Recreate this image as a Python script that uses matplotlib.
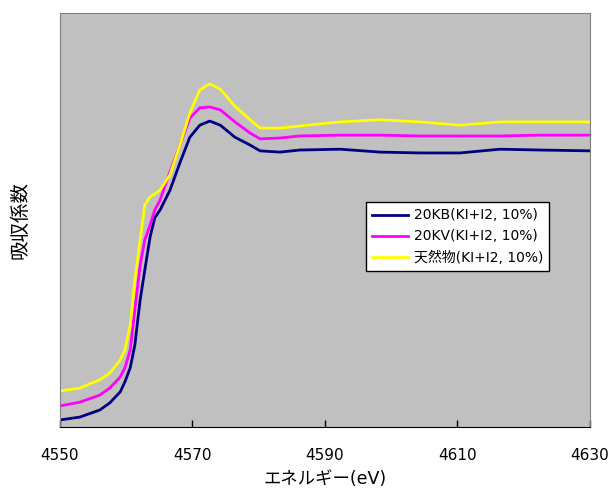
import numpy as np
import matplotlib.pyplot as plt

plt.rcParams['font.family'] = ['DejaVu Sans', 'Noto Sans CJK JP']

# photon energy (eV)
energy = [4550.0, 4553.0, 4556.0, 4557.5, 4559.1, 4559.8, 4560.6, 4561.3, 4562.1,
          4562.8, 4563.6, 4564.3, 4565.1, 4566.6, 4568.1, 4569.6, 4571.1, 4572.6,
          4574.2, 4576.4, 4578.7, 4580.2, 4583.2, 4586.2, 4592.3, 4598.3, 4604.3,
          4610.4, 4616.4, 4622.5, 4630.0]

# absorption (arbitrary units)
kb20 = [0.017, 0.024, 0.041, 0.058, 0.085, 0.109, 0.143, 0.198, 0.307,
        0.379, 0.459, 0.505, 0.524, 0.572, 0.638, 0.700, 0.729, 0.739,
        0.729, 0.700, 0.681, 0.667, 0.664, 0.669, 0.671, 0.664, 0.662,
        0.662, 0.671, 0.669, 0.667]
kv20 = [0.051, 0.060, 0.077, 0.094, 0.121, 0.143, 0.186, 0.283, 0.391,
        0.452, 0.488, 0.524, 0.548, 0.616, 0.681, 0.746, 0.771, 0.773,
        0.766, 0.737, 0.710, 0.696, 0.698, 0.703, 0.705, 0.705, 0.703,
        0.703, 0.703, 0.705, 0.705]
natural = [0.087, 0.094, 0.114, 0.130, 0.162, 0.186, 0.246, 0.355, 0.452,
           0.536, 0.556, 0.563, 0.572, 0.609, 0.681, 0.758, 0.814, 0.829,
           0.816, 0.775, 0.742, 0.722, 0.722, 0.727, 0.737, 0.742, 0.737,
           0.729, 0.737, 0.737, 0.737]

labels = ['20KB(KI+I2, 10%)', '20KV(KI+I2, 10%)', '天然物(KI+I2, 10%)']
colors = ['#000080', '#ff00ff', '#ffff00']

fig = plt.figure(figsize=(6.09, 4.94), dpi=100)
ax = fig.add_axes([0.0985, 0.1356, 0.8703, 0.8381])
ax.set_facecolor('#c0c0c0')

for y, lab, c in zip([kb20, kv20, natural], labels, colors):
    ax.plot(energy, y, color=c, lw=2.0, label=lab)

ax.set_xlim(4550, 4630)
ax.set_ylim(0, 1.0)
ax.set_xticks([4550, 4570, 4590, 4610, 4630])
ax.set_yticks([])
ax.tick_params(axis='x', direction='in', length=5, width=1, pad=15, labelsize=11)

for s in ['left', 'top', 'right']:
    ax.spines[s].set_color('#808080')
ax.spines['bottom'].set_color('black')

ax.set_xlabel('エネルギー(eV)', fontsize=12.5, labelpad=5)
ax.set_ylabel('吸収係数', fontsize=14, labelpad=22)

leg = ax.legend(loc='upper left', bbox_to_anchor=(0.577, 0.543), borderaxespad=0,
                fontsize=10, frameon=True, fancybox=False, edgecolor='black',
                framealpha=1, handlelength=2.6, handletextpad=0.4,
                borderpad=0.45, labelspacing=0.5)
leg.get_frame().set_linewidth(1.0)

fig.savefig('out.png', dpi=100)
